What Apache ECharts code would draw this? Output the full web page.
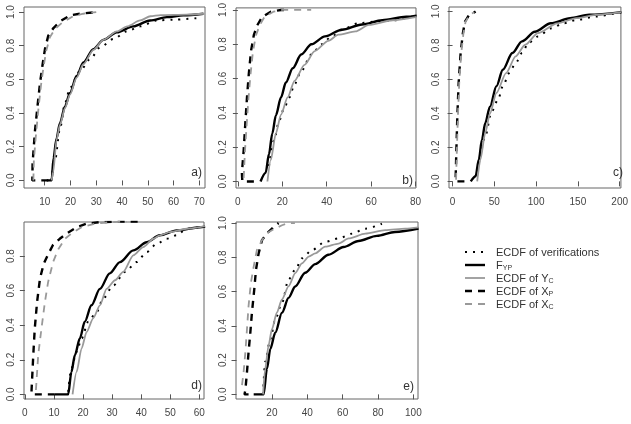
<!DOCTYPE html>
<html><head><meta charset="utf-8">
<script src="https://cdn.jsdelivr.net/npm/echarts@6/dist/echarts.min.js"></script>
<style>html,body{margin:0;padding:0;background:#fff}#c{width:631px;height:424px}</style>
</head><body><div id="c"></div>
<script>
// ---- Panel a ----
const aVerif = [[12.5,0],[14,0.12],[15.9,0.305],[17.9,0.46],[19.8,0.55],[23.7,0.65],[27.6,0.72],[31.5,0.79],[36.7,0.84],[41.8,0.885],[47,0.915],[53.5,0.95],[60,0.955],[70,0.965]];
const aFyp = [[10.8,0],[12.7,0],[13.4,0.13],[14.6,0.25],[15.9,0.34],[17.9,0.44],[19.8,0.52],[22.4,0.62],[25,0.70],[28.9,0.78],[32.8,0.835],[38,0.88],[44.4,0.915],[50.9,0.95],[57.4,0.97],[63.8,0.98],[71.6,0.99]];
const aYc = [[12.7,0],[13.3,0.05],[14.6,0.24],[15.9,0.33],[17.9,0.43],[19.8,0.51],[22.4,0.61],[25,0.69],[28.9,0.775],[32.8,0.835],[38,0.885],[42,0.915],[47,0.95],[51,0.975],[55,0.982],[65,0.985],[72,0.99]];
const aXp = [[11.4,0],[5.2,0],[5.3,0.1],[6.2,0.29],[7.2,0.44],[8.2,0.58],[9.2,0.69],[10.1,0.78],[11.4,0.86],[13.4,0.905],[16,0.945],[19.8,0.98],[23.7,0.99],[30.2,1.0]];
const aXc = [[5.6,0],[5.8,0.12],[6.6,0.27],[7.6,0.43],[8.6,0.57],[9.6,0.68],[10.6,0.77],[12,0.85],[14,0.9],[17,0.94],[21,0.975],[25,0.99],[30,1.0]];
// ---- Panel b ----
const bVerif = [[14,0.09],[16.3,0.24],[18.6,0.356],[20.9,0.43],[23.2,0.49],[25.5,0.567],[28.5,0.644],[33.1,0.74],[37.7,0.8],[42.2,0.846],[48.3,0.894],[54.4,0.923],[63.6,0.933],[71.2,0.94],[78.8,0.96],[81,0.97]];
const bFyp = [[10.2,0],[12.5,0.05],[14,0.16],[15.5,0.28],[17.1,0.385],[19.4,0.49],[21.6,0.577],[24.7,0.66],[28.5,0.74],[33.1,0.8],[39.2,0.846],[46.8,0.885],[55.9,0.915],[65,0.94],[75.8,0.96],[80.5,0.967]];
const bYc = [[13.3,0],[14.8,0.125],[17.1,0.28],[19.4,0.39],[22.4,0.49],[25.5,0.587],[30,0.68],[34.6,0.76],[40.7,0.82],[45.3,0.856],[52.9,0.875],[59,0.913],[69.7,0.94],[80.5,0.96]];
const bXp = [[7.2,0],[2.0,0],[1.8,0.05],[2.6,0.18],[3.35,0.34],[4.1,0.49],[4.9,0.625],[5.9,0.76],[7.2,0.855],[8.7,0.91],[11,0.96],[14.8,0.99],[19.4,1.0],[22,1.0]];
const bXc = [[2.6,0.02],[3.2,0.18],[4,0.34],[4.8,0.49],[5.7,0.625],[6.8,0.76],[8.2,0.855],[9.8,0.91],[12,0.96],[16,0.99],[20,1.0],[33,1.0]];
// ---- Panel c ----
const cVerif = [[33.3,0.147],[39.1,0.265],[46.7,0.41],[54.4,0.48],[60.2,0.56],[67.8,0.637],[75.5,0.696],[83.1,0.755],[90.8,0.814],[102.3,0.853],[117.6,0.9],[133,0.93],[148.3,0.95],[171.3,0.97],[194,0.986],[202,0.995]];
const cFyp = [[21.8,0],[27.6,0.03],[31.4,0.127],[35.2,0.245],[39.1,0.343],[44.8,0.44],[52.5,0.56],[60.2,0.657],[71.6,0.755],[83.1,0.824],[98.5,0.88],[117.6,0.93],[140.6,0.96],[163.6,0.98],[202,0.996]];
const cYc = [[29.5,0],[33.3,0.127],[39.1,0.284],[44.8,0.4],[52.5,0.52],[64,0.637],[75.5,0.735],[87,0.804],[102.3,0.873],[125.3,0.93],[148.3,0.96],[171.3,0.98],[202,0.996]];
const cXp = [[14.2,0],[3.6,0],[3.4,0.01],[4.6,0.19],[5.7,0.38],[7.3,0.58],[9.6,0.75],[12.3,0.87],[14.9,0.94],[19.9,0.98],[25.7,0.994],[27.6,1.0]];
const cXc = [[4.2,0.01],[5.2,0.19],[6.4,0.38],[8,0.58],[10.3,0.75],[13,0.87],[15.6,0.94],[20.5,0.98],[26,0.995]];
// ---- Panel d ----
const dVerif = [[14.9,0.015],[16,0.15],[17.8,0.246],[19.5,0.323],[21.8,0.42],[24.7,0.477],[26.9,0.554],[30.4,0.63],[34.4,0.708],[38.4,0.765],[41.9,0.823],[45.3,0.87],[48.7,0.9],[52.2,0.92],[55.6,0.958],[60.2,0.967]];
const dFyp = [[10.3,0],[14.9,0],[16,0.13],[17.2,0.227],[18.9,0.323],[20.6,0.42],[22.9,0.515],[25.8,0.61],[29.2,0.7],[32.7,0.765],[37.3,0.833],[41.9,0.88],[46.4,0.92],[52.2,0.948],[60.2,0.967],[62,0.97]];
const dYc = [[16.4,0],[17.8,0.13],[19.5,0.265],[21.2,0.36],[23.5,0.44],[25.8,0.515],[28.1,0.61],[31,0.66],[33.8,0.708],[37.3,0.804],[40.7,0.852],[44.2,0.9],[46.4,0.92],[49.9,0.938],[55.6,0.958],[61.9,0.973]];
const dXp = [[10.3,0],[2.3,0],[2.3,0.025],[2.9,0.23],[3.4,0.38],[4.2,0.535],[5.2,0.67],[6.5,0.756],[8,0.81],[9.7,0.865],[12,0.9],[14.3,0.93],[17.8,0.967],[21.2,0.987],[25.8,0.996],[32.7,1.0],[40,1.0]];
const dXc = [[3.8,0.025],[4.6,0.23],[5.7,0.38],[6.9,0.535],[8,0.65],[9.7,0.765],[11.5,0.84],[13.8,0.9],[16,0.93],[19.5,0.967],[24.7,0.99],[29.2,0.995],[35,1.0]];
// ---- Panel e ----
const eVerif = [[15,0],[16.2,0.19],[19.1,0.323],[21.9,0.438],[25.7,0.535],[29.4,0.67],[33.2,0.727],[37,0.794],[42.6,0.842],[50.1,0.89],[57.7,0.91],[65.2,0.938],[72.8,0.967],[82.2,0.996]];
const eFyp = [[9.7,0],[15.3,0],[17.2,0.15],[19.1,0.265],[21.9,0.36],[25.7,0.477],[29.4,0.563],[33.2,0.63],[38.8,0.71],[44.5,0.76],[52,0.815],[60.5,0.86],[69,0.895],[79.3,0.925],[89.6,0.948],[102.9,0.968]];
const eYc = [[15,0],[16.2,0.15],[18.1,0.285],[20,0.38],[22.8,0.477],[25.7,0.554],[29.4,0.63],[33.2,0.708],[37,0.765],[40.8,0.804],[44.5,0.823],[50.1,0.862],[57.7,0.88],[63.4,0.91],[72.8,0.938],[84.1,0.958],[95.4,0.967],[102.9,0.975]];
const eXp = [[6.8,0],[4.5,0],[5,0.025],[5.9,0.13],[6.8,0.246],[7.8,0.36],[8.7,0.477],[10,0.61],[11,0.727],[12.5,0.823],[14.4,0.9],[17.2,0.94],[21,0.977],[23.8,1.0]];
const eXc = [[3.1,0.054],[4,0.13],[5,0.246],[5.9,0.38],[6.8,0.515],[8.1,0.65],[9.7,0.746],[11.5,0.842],[14.4,0.9],[17.2,0.94],[20,0.958],[25.7,0.987],[29.4,1.0],[33,1.0]];

// tick labels
const xTicksA = [10,20,30,40,50,60,70];
const xTicksB = [0,20,40,60,80];
const xTicksC = [0,50,100,150,200];
const xTicksD = [0,10,20,30,40,50,60];
const xTicksE = [20,40,60,80,100];
const yTicks = [0,0.2,0.4,0.6,0.8,1.0];
const yTicksD = [0,0.2,0.4,0.6,0.8];
const panelNames = ['a)','b)','c)','d)','e)'];

const panels = [
  {grid:{left:24,top:7,width:181,height:181}, x:[1.97,72.2], y:[-0.045,1.03], xt:xTicksA, yt:yTicks, s:[aVerif,aFyp,aYc,aXp,aXc], lab:[202,173]},
  {grid:{left:236,top:7,width:180,height:181}, x:[-0.85,80.2], y:[-0.038,1.012], xt:xTicksB, yt:yTicks, s:[bVerif,bFyp,bYc,bXp,bXc], lab:[413,181]},
  {grid:{left:449,top:7,width:179,height:181}, x:[-4.25,201.5], y:[-0.039,1.026], xt:xTicksC, yt:yTicks, s:[cVerif,cFyp,cYc,cXp,cXc], lab:[623,173]},
  {grid:{left:24,top:222,width:180,height:177}, x:[-0.3,61.6], y:[-0.027,0.997], xt:xTicksD, yt:yTicksD, s:[dVerif,dFyp,dYc,dXp,dXc], lab:[202,386]},
  {grid:{left:236,top:222,width:182,height:177}, x:[-0.3,102.6], y:[-0.027,1.006], xt:xTicksE, yt:yTicks, s:[eVerif,eFyp,eYc,eXp,eXc], lab:[414,387]}
];

const FONT = 'Liberation Sans, Arial, sans-serif';
const styles = [
  {color:'#000', width:2, type:[2,6], smooth:0.3},
  {color:'#000', width:2.4, type:'solid', smooth:0.3},
  {color:'#999', width:1.8, type:'solid', smooth:0.25},
  {color:'#000', width:2.4, type:[7,6], smooth:false},
  {color:'#999', width:1.8, type:[7,6], smooth:false}
];
const names = ['ECDF of verifications','F_YP','ECDF of Y_C','ECDF of X_P','ECDF of X_C'];

const grids=[], xAxes=[], yAxes=[], series=[], graphics=[];
panels.forEach((p,i)=>{
  grids.push(Object.assign({show:true, borderColor:'#666', borderWidth:1, containLabel:false}, p.grid));
  xAxes.push({type:'value', gridIndex:i, min:p.x[0], max:p.x[1],
    axisLine:{show:false}, splitLine:{show:false},
    axisTick:{show:true, length:5, customValues:p.xt, lineStyle:{color:'#555'}},
    axisLabel:{customValues:p.xt, fontSize:10, color:'#444', margin:9, fontFamily:FONT,
      formatter:v=>String(Math.round(v))}});
  yAxes.push({type:'value', gridIndex:i, min:p.y[0], max:p.y[1],
    axisLine:{show:false}, splitLine:{show:false},
    axisTick:{show:true, length:5, customValues:p.yt, lineStyle:{color:'#555'}},
    axisLabel:{customValues:p.yt, fontSize:10, color:'#444', margin:8, rotate:90, fontFamily:FONT,
      formatter:v=>v.toFixed(1)}});
  p.s.forEach((d,k)=>{
    const st = styles[k];
    series.push({type:'line', name:names[k], xAxisIndex:i, yAxisIndex:i, data:d,
      showSymbol:false, symbol:'none', smooth:st.smooth, smoothMonotone: st.smooth ? 'x' : undefined,
      clip:true, animation:false, silent:true,
      lineStyle:{color:st.color, width:st.width, type:st.type, cap:'butt'}});
  });
  graphics.push({type:'text', x:p.lab[0], y:p.lab[1],
    style:{text:panelNames[i], fill:'#333', font:'12px '+FONT, textAlign:'right', textVerticalAlign:'middle'}});
});

// legend
const legY = [252,265,278,291,304];
const legLabels = ['{n|ECDF of verifications}','{n|F}{s|YP}','{n|ECDF of Y}{s|C}','{n|ECDF of X}{s|P}','{n|ECDF of X}{s|C}'];
legY.forEach((y,k)=>{
  const st = styles[k];
  graphics.push({type:'line', shape:{x1:465, y1:y, x2:485, y2:y},
    style:{stroke:st.color, lineWidth:st.width, lineDash: st.type==='solid'?null:st.type, lineCap:'butt'}});
  graphics.push({type:'text', x:496, y:y,
    style:{text:legLabels[k], textVerticalAlign:'middle', fill:'#333',
      rich:{n:{fontSize:11, fontFamily:FONT, fill:'#333', lineHeight:13, verticalAlign:'bottom'},
            s:{fontSize:7, fontFamily:FONT, fill:'#333', lineHeight:13, verticalAlign:'bottom', padding:[4,0,0,0]}}}});
});

const chart = echarts.init(document.getElementById('c'), null, {renderer:'canvas'});
chart.setOption({animation:false, backgroundColor:'#fff', grid:grids, xAxis:xAxes, yAxis:yAxes, series:series, graphic:graphics});
</script></body></html>
